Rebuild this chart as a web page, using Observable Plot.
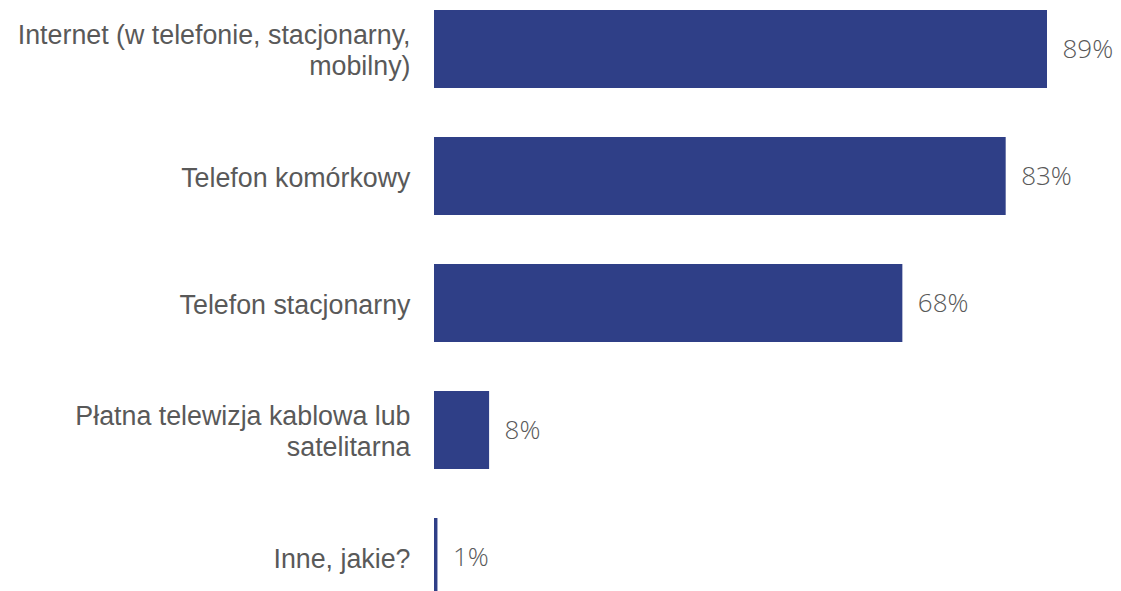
<!DOCTYPE html>
<html><head><meta charset="utf-8">
<script src="https://cdn.jsdelivr.net/npm/d3@7"></script>
<script src="https://cdn.jsdelivr.net/npm/@observablehq/plot@0.6"></script>
<style>
html,body{margin:0;padding:0;background:#fff;overflow:hidden}
#chart{width:1121px;height:591px;overflow:hidden}
</style></head>
<body><div id="chart"></div>
<script>
const categories = [
  "Internet (w telefonie, stacjonarny,\nmobilny)",
  "Telefon komórkowy",
  "Telefon stacjonarny",
  "Płatna telewizja kablowa lub\nsatelitarna",
  "Inne, jakie?"
];
const values = [89, 83, 68, 8, 0.5];
const valueLabels = ["89%", "83%", "68%", "8%", "1%"];

const data = categories.map((c, i) => ({cat: c, v: values[i], lab: valueLabels[i]}));

const plot = Plot.plot({
  width: 1121,
  height: 606,
  marginLeft: 434,
  marginRight: 74,
  marginTop: 0,
  marginBottom: 0,
  x: {domain: [0, 89], axis: null},
  y: {domain: categories, axis: null, paddingInner: 0.386, paddingOuter: 0.0787},
  marks: [
    Plot.barX(data, {x: "v", y: "cat", fill: "#2f3f87"}),
    Plot.text(data, {y: "cat", text: "cat", frameAnchor: "left", textAnchor: "end", dx: -24,
      fill: "#595959", fontSize: 26.8, fontFamily: "Liberation Sans, Arial, sans-serif", lineHeight: 1.18}),
    Plot.text(data, {x: "v", y: "cat", text: "lab", textAnchor: "start", dx: 15,
      fill: "#595959", fontSize: 26, fontWeight: 300, fontFamily: "Open Sans, sans-serif"})
  ]
});
document.getElementById("chart").appendChild(plot);
</script></body></html>
